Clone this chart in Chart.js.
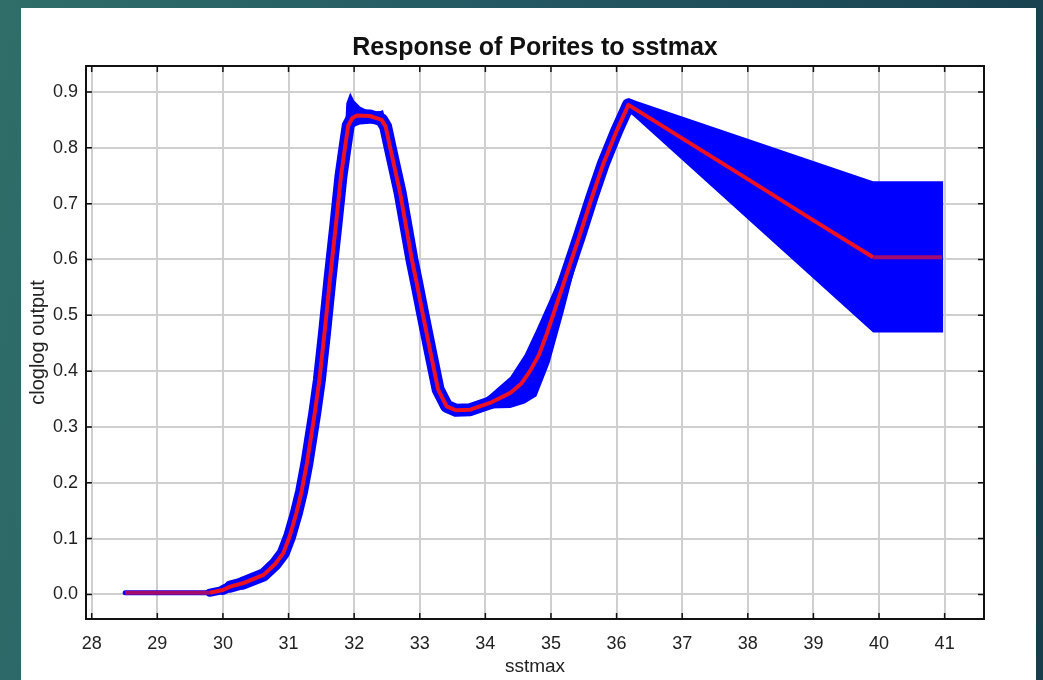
<!DOCTYPE html>
<html>
<head>
<meta charset="utf-8">
<script src="https://cdn.jsdelivr.net/npm/chart.js@4.4.1/dist/chart.umd.min.js"></script>
<style>
    html, body { margin: 0; padding: 0; }
    body {
        width: 1043px;
        height: 680px;
        overflow: hidden;
        background: linear-gradient(100deg, #2f6e69 0%, #245863 45%, #173d4b 100%);
        position: relative;
    }
    #panel {
        position: absolute;
        left: 21px;
        top: 8px;
        width: 1015px;
        height: 672px;
        background: #ffffff;
    }
</style>
</head>
<body>
<div id="panel"><canvas id="responseChart" width="1015" height="672"></canvas></div>
<script>
// mean response (red line)
const meanX = [28.51, 29.80, 30.00, 30.11, 30.30, 30.62, 30.80, 30.92, 31.02, 31.12, 31.20, 31.28, 31.40, 31.47, 31.55, 31.63, 31.72, 31.80, 31.86, 31.91, 31.97, 32.04, 32.24, 32.42, 32.48, 32.55, 32.70, 32.88, 32.95, 33.05, 33.17, 33.28, 33.41, 33.55, 33.77, 34.07, 34.38, 34.55, 34.68, 34.82, 34.94, 35.21, 35.44, 35.62, 35.80, 36.00, 36.18, 36.66, 37.00, 38.00, 39.00, 39.91, 40.96];
const meanY = [0.003, 0.003, 0.008, 0.014, 0.020, 0.035, 0.055, 0.074, 0.105, 0.146, 0.185, 0.235, 0.325, 0.384, 0.470, 0.563, 0.660, 0.750, 0.800, 0.840, 0.853, 0.858, 0.857, 0.850, 0.838, 0.800, 0.720, 0.600, 0.560, 0.500, 0.430, 0.367, 0.337, 0.330, 0.331, 0.343, 0.361, 0.378, 0.400, 0.430, 0.468, 0.563, 0.644, 0.710, 0.772, 0.830, 0.877, 0.842, 0.817, 0.744, 0.670, 0.604, 0.604];

// spread of the replicate runs (blue band), upper and lower edge
const bandX = [28.51, 29.80, 31.84, 31.88, 31.94, 32.00, 32.09, 32.24, 32.40, 32.44, 32.50, 32.55, 33.77, 34.07, 34.38, 34.60, 34.78, 34.98, 35.19, 35.40, 35.60, 36.18, 39.91, 40.98];
const bandHi = [0.003, 0.003, 0.783, 0.880, 0.899, 0.885, 0.874, 0.865, 0.866, 0.868, 0.840, 0.800, 0.331, 0.358, 0.390, 0.430, 0.475, 0.528, 0.585, 0.660, 0.705, 0.889, 0.740, 0.740];
const bandLo = [0.003, 0.003, 0.783, 0.815, 0.830, 0.838, 0.842, 0.843, 0.844, 0.845, 0.826, 0.800, 0.331, 0.333, 0.334, 0.342, 0.355, 0.415, 0.504, 0.600, 0.700, 0.865, 0.469, 0.469];

const xTicks = [28, 29, 30, 31, 32, 33, 34, 35, 36, 37, 38, 39, 40, 41];
const yTicks = [0.0, 0.1, 0.2, 0.3, 0.4, 0.5, 0.6, 0.7, 0.8, 0.9];

const toPoints = (xs, ys) => xs.map((x, i) => ({ x: x, y: ys[i] }));
const isFlat = (c) => c.p0.parsed.x < 29.8 || c.p0.parsed.x >= 39.9;

// stroke gets thinner where the runs agree (flat start)
function spreadWidth(c) {
    const x0 = c.p0.parsed.x;
    if (x0 < 29.8) return 5;
    if (x0 < 30.0) return 8;
    if (x0 < 30.11) return 10;
    if (x0 < 30.3) return 12;
    return undefined;
}

// black frame with short inward tick marks on all four sides
const frameTicks = {
    id: "frameTicks",
    afterDraw(chart) {
        const { ctx, chartArea: a, scales } = chart;
        const len = 6;
        ctx.save();
        ctx.strokeStyle = "#111";
        ctx.lineWidth = 1.5;
        ctx.beginPath();
        xTicks.forEach(v => {
            const px = scales.x.getPixelForValue(v);
            ctx.moveTo(px, a.top);
            ctx.lineTo(px, a.top + len);
            ctx.moveTo(px, a.bottom);
            ctx.lineTo(px, a.bottom - len);
        });
        yTicks.forEach(v => {
            const py = scales.y.getPixelForValue(v);
            ctx.moveTo(a.left, py);
            ctx.lineTo(a.left + len, py);
            ctx.moveTo(a.right, py);
            ctx.lineTo(a.right - len, py);
        });
        ctx.stroke();
        ctx.lineWidth = 2;
        ctx.strokeRect(a.left, a.top, a.right - a.left, a.bottom - a.top);
        ctx.restore();
    },
};

const ctx = document.getElementById("responseChart").getContext("2d");
new Chart(ctx, {
    type: "line",
    data: {
        datasets: [
            {
                label: "mean",
                data: toPoints(meanX, meanY),
                borderColor: "#ee1122",
                borderWidth: 4,
                borderJoinStyle: "round",
                tension: 0,
                pointRadius: 0,
                fill: false,
                segment: {
                    borderColor: (c) => (isFlat(c) ? "#a30c6c" : undefined),
                },
            },
            {
                label: "spread",
                data: toPoints(meanX, meanY),
                borderColor: "#0000ff",
                borderWidth: 13,
                borderJoinStyle: "round",
                borderCapStyle: "round",
                tension: 0,
                pointRadius: 0,
                fill: false,
                segment: {
                    borderWidth: spreadWidth,
                    borderCapStyle: (c) => (c.p0.parsed.x >= 39.9 ? "butt" : undefined),
                },
            },
            {
                label: "upper",
                data: toPoints(bandX, bandHi),
                borderWidth: 0,
                pointRadius: 0,
                backgroundColor: "#0000ff",
                fill: "+1",
            },
            {
                label: "lower",
                data: toPoints(bandX, bandLo),
                borderWidth: 0,
                pointRadius: 0,
                fill: false,
            },
        ],
    },
    options: {
        responsive: false,
        animation: false,
        layout: {
            padding: { right: 52 },
        },
        plugins: {
            legend: { display: false },
            tooltip: { enabled: false },
        },
        scales: {
            x: {
                type: "linear",
                min: 27.913,
                max: 41.6,
                afterFit: (s) => { s.height = 61; },
                grid: { color: "#cfcfcf", lineWidth: 2, drawTicks: false },
                border: { display: false },
                ticks: {
                    stepSize: 1,
                    includeBounds: false,
                    padding: 14,
                    color: "#222",
                    font: { family: "Liberation Sans", size: 18 },
                    callback: (v) => v.toFixed(0),
                },
                title: {
                    display: true,
                    text: "sstmax",
                    color: "#222",
                    font: { family: "Liberation Sans", size: 19 },
                    padding: { top: 0, bottom: 2 },
                },
            },
            // top axis only carries the chart title, centred over the plot
            xTop: {
                type: "linear",
                axis: "x",
                position: "top",
                min: 27.913,
                max: 41.6,
                afterFit: (s) => { s.height = 58; },
                grid: { display: false, drawTicks: false },
                border: { display: false },
                ticks: { display: false },
                title: {
                    display: true,
                    text: "Response of Porites to sstmax",
                    color: "#111",
                    font: { family: "Liberation Sans", size: 25, weight: "bold" },
                    padding: { top: 25, bottom: 0 },
                },
            },
            y: {
                min: -0.044,
                max: 0.9466,
                afterFit: (s) => { s.width = 65; },
                grid: { color: "#cfcfcf", lineWidth: 2, drawTicks: false },
                border: { display: false },
                ticks: {
                    stepSize: 0.1,
                    includeBounds: false,
                    padding: 8,
                    color: "#222",
                    font: { family: "Liberation Sans", size: 18 },
                    callback: (v) => v.toFixed(1),
                },
                title: {
                    display: true,
                    text: "cloglog output",
                    color: "#222",
                    font: { family: "Liberation Sans", size: 20 },
                    padding: { top: 5, bottom: 0 },
                },
            },
        },
    },
    plugins: [frameTicks],
});
</script>
</body>
</html>
